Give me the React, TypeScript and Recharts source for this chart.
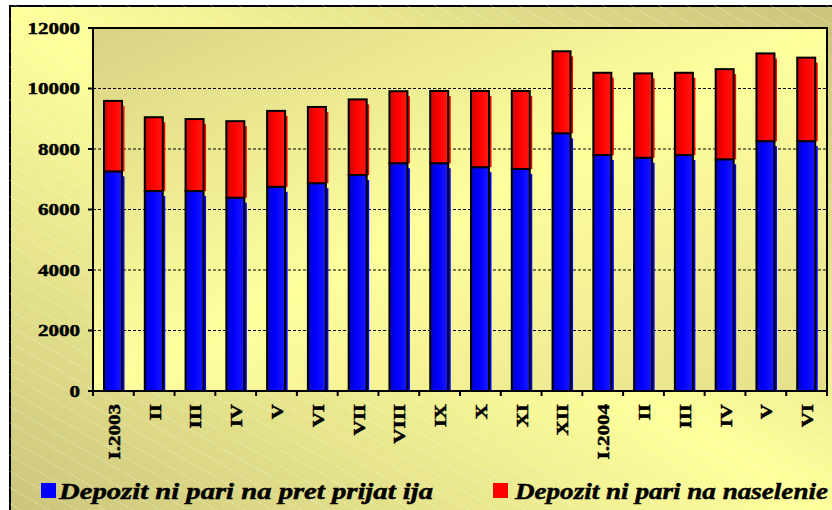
import React from 'react';
import { BarChart, Bar, XAxis, YAxis, CartesianGrid, ReferenceArea } from 'recharts';

const categories = ['I.2003', 'II', 'III', 'IV', 'V', 'VI', 'VII', 'VIII', 'IX', 'X', 'XI', 'XII', 'I.2004', 'II', 'III', 'IV', 'V', 'VI'];
const enterpriseDeposits = [7260, 6610, 6610, 6390, 6750, 6870, 7140, 7530, 7530, 7400, 7340, 8520, 7800, 7710, 7800, 7660, 8260, 8260];
const householdDeposits = [2330, 2440, 2380, 2530, 2510, 2520, 2500, 2380, 2390, 2520, 2580, 2710, 2720, 2790, 2720, 2980, 2900, 2760];
const yTicks = [0, 2000, 4000, 6000, 8000, 10000, 12000];
const seriesNames = ['Depozit ni pari na pret prijat ija', 'Depozit ni pari na naselenie'];
const seriesColors = ['#0000FF', '#FF0000'];

const data = categories.map((c, i) => ({
  name: c,
  enterprise: enterpriseDeposits[i],
  household: householdDeposits[i],
}));

const W = 832;
const H = 510;
const margin = { top: 28, right: 5, left: 13, bottom: 0 };
const Y_W = 80;
const X_H = 119;
const plotW = W - margin.left - Y_W - margin.right;
const band = plotW / categories.length;
const FONT = '"Liberation Serif", "Times New Roman", serif';

function BarShape(props: any) {
  const { x, y, width, height, fill, shadow } = props;
  if (!height || height <= 0) return null;
  return (
    <g>
      <rect x={x + 2.5} y={y + 5} width={width} height={Math.max(0, height - 5)} fill={shadow} />
      <rect x={x} y={y} width={width} height={height} fill={fill} stroke="#000" strokeWidth={2} />
    </g>
  );
}

function XTick(props: any) {
  const { x, y, payload, index } = props;
  const tx = x + 6.5;
  const ty = y + 13;
  const last = index === categories.length - 1;
  return (
    <g>
      <line x1={x - band / 2} x2={x - band / 2} y1={y} y2={y + 5} stroke="#000" strokeWidth={2} />
      {last && <line x1={x + band / 2} x2={x + band / 2} y1={y} y2={y + 5} stroke="#000" strokeWidth={2} />}
      <g transform={`translate(${tx}, ${ty}) rotate(-90) scale(1.2, 1)`}>
        <text
          x={0}
          y={0}
          textAnchor="end"
          fontFamily={FONT}
          fontWeight="bold"
          fontSize={17.5}
          stroke="#000"
          strokeWidth={0.5}
          fill="#000"
        >
          {payload.value}
        </text>
      </g>
    </g>
  );
}

function YTick(props: any) {
  const { x, y, payload } = props;
  return (
    <g transform={`translate(${x}, ${y}) scale(1.2, 1)`}>
      <text
        x={0}
        y={0}
        dy="0.34em"
        textAnchor="end"
        fontFamily={FONT}
        fontWeight="bold"
        fontSize={17.5}
        stroke="#000"
        strokeWidth={0.5}
        fill="#000"
      >
        {payload.value}
      </text>
    </g>
  );
}

export default function App() {
  return (
    <div style={{ position: 'absolute', left: 0, top: 0, width: W, height: H, overflow: 'hidden' }}>
      <div
        style={{
          position: 'absolute',
          left: 9,
          top: 5,
          width: 850,
          height: 530,
          border: '2.5px solid #000',
          background: 'linear-gradient(to top right, #C8C27A 0%, #FFFF9C 50%, #C8C27A 100%)',
        }}
      />
      <div
        style={{
          position: 'absolute',
          left: 9,
          top: 5,
          width: 850,
          height: 530,
          background:
            'repeating-linear-gradient(30deg, rgba(255,255,255,0) 0px, rgba(255,255,255,0) 13px, rgba(255,255,255,0.22) 13px, rgba(255,255,255,0.22) 14px)',
        }}
      />
      <div style={{ position: 'absolute', left: 0, top: 0 }}>
        <BarChart width={W} height={H} data={data} margin={margin} barSize={18}>
          <defs>
            <linearGradient id="plotBg" x1="0" y1="0" x2="1" y2="1">
              <stop offset="0%" stopColor="#D8D284" />
              <stop offset="50%" stopColor="#FFFF9E" />
              <stop offset="100%" stopColor="#E4DE8A" />
            </linearGradient>
            <linearGradient id="redG" x1="0" y1="0" x2="1" y2="0">
              <stop offset="0%" stopColor="#C80800" />
              <stop offset="45%" stopColor="#FF0000" />
              <stop offset="100%" stopColor="#FF1A10" />
            </linearGradient>
            <linearGradient id="blueG" x1="0" y1="0" x2="1" y2="0">
              <stop offset="0%" stopColor="#0000C8" />
              <stop offset="45%" stopColor="#0000FF" />
              <stop offset="100%" stopColor="#1A1AFF" />
            </linearGradient>
          </defs>
          <CartesianGrid
            vertical={false}
            stroke="#000"
            strokeDasharray="3 2"
            fill="url(#plotBg)"
            fillOpacity={1}
          />
          <XAxis
            dataKey="name"
            height={X_H}
            interval={0}
            tickLine={false}
            tickSize={0}
            tickMargin={0}
            axisLine={{ stroke: '#000', strokeWidth: 2 }}
            tick={<XTick />}
          />
          <YAxis
            width={Y_W}
            domain={[0, 12000]}
            ticks={yTicks}
            tickSize={5}
            tickMargin={8}
            tickLine={{ stroke: '#000', strokeWidth: 2 }}
            axisLine={{ stroke: '#000', strokeWidth: 2 }}
            tick={<YTick />}
          />
          <Bar
            dataKey="enterprise"
            name={seriesNames[0]}
            stackId="a"
            fill="url(#blueG)"
            isAnimationActive={false}
            shape={(p: any) => <BarShape {...p} fill="url(#blueG)" shadow={seriesColors[0]} />}
          />
          <Bar
            dataKey="household"
            name={seriesNames[1]}
            stackId="a"
            fill="url(#redG)"
            isAnimationActive={false}
            shape={(p: any) => <BarShape {...p} fill="url(#redG)" shadow={seriesColors[1]} />}
          />
          <ReferenceArea y1={0} y2={12000} fill="none" stroke="#000" strokeWidth={2} ifOverflow="visible" />
        </BarChart>
      </div>
      <svg width={W} height={H} style={{ position: 'absolute', left: 0, top: 0, pointerEvents: 'none' }}>
        <rect x={41} y={483} width={15} height={15} fill={seriesColors[0]} />
        <text
          x={59}
          y={499}
          textLength={374}
          lengthAdjust="spacingAndGlyphs"
          fontFamily={FONT}
          fontWeight="bold"
          fontStyle="italic"
          fontSize={24}
          stroke="#000"
          strokeWidth={0.5}
          fill="#000"
        >
          {seriesNames[0]}
        </text>
        <rect x={493} y={483} width={15} height={15} fill={seriesColors[1]} />
        <text
          x={515}
          y={499}
          textLength={313}
          lengthAdjust="spacingAndGlyphs"
          fontFamily={FONT}
          fontWeight="bold"
          fontStyle="italic"
          fontSize={24}
          stroke="#000"
          strokeWidth={0.5}
          fill="#000"
        >
          {seriesNames[1]}
        </text>
      </svg>
    </div>
  );
}
